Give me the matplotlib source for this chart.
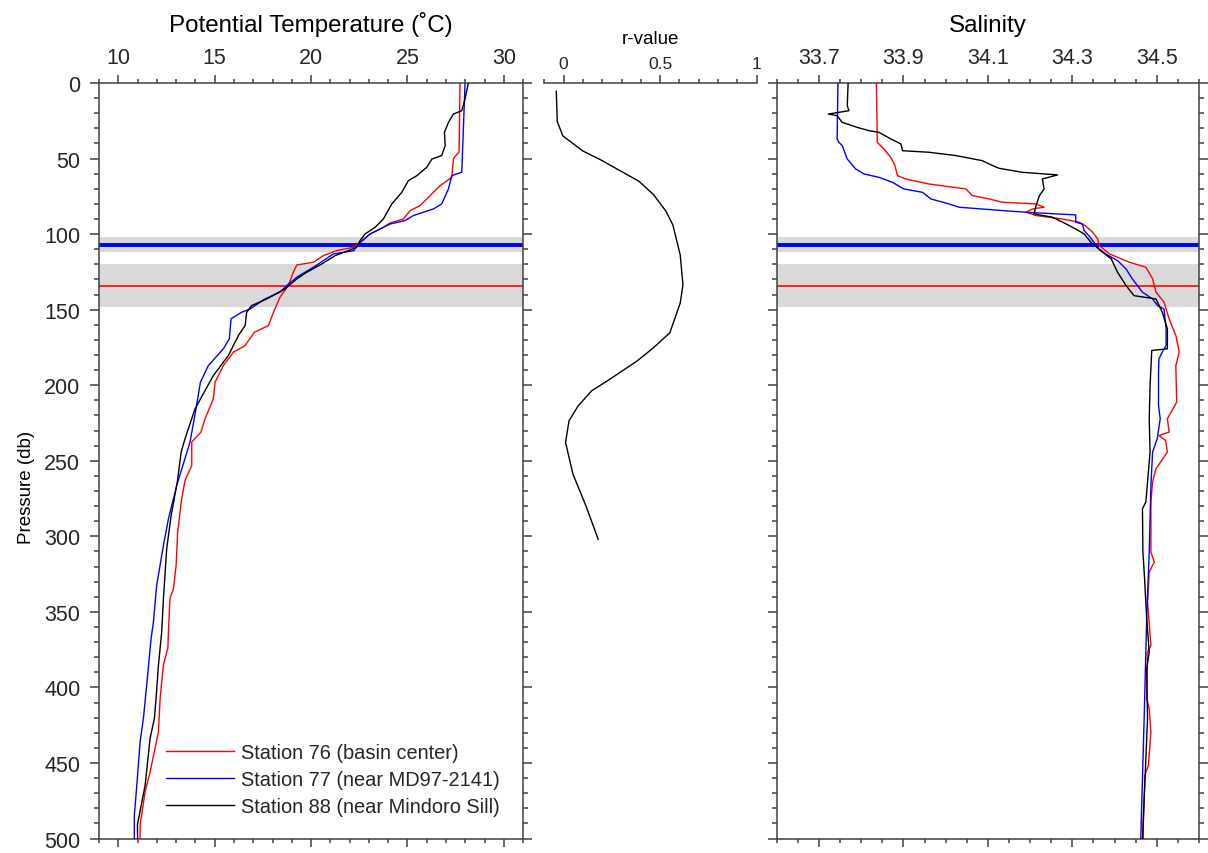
import matplotlib
matplotlib.use("Agg")
import matplotlib.pyplot as plt
from matplotlib.ticker import MultipleLocator

plt.rcParams['font.family'] = ['Liberation Sans', 'DejaVu Sans']
plt.rcParams['text.color'] = '#262626'
plt.rcParams['xtick.color'] = '#404040'
plt.rcParams['ytick.color'] = '#404040'
plt.rcParams['xtick.labelcolor'] = '#262626'
plt.rcParams['ytick.labelcolor'] = '#262626'

# ---- potential temperature profiles (pressure db, deg C)
t76_p = [0, 45.6, 50, 62.4, 67.9, 72.3, 81.1, 84.4, 90, 92.6, 95.5, 99.9, 105.4, 108.7, 110.9,
         114.2, 118.6, 120.4, 125.2, 134, 141.7, 151.7, 160.5, 164.9, 173.7, 178.1, 187, 198, 209,
         222.2, 231, 237.6, 253.1, 263, 275, 297, 319, 334.7, 341, 363, 374, 385, 407, 429.5,
         455.9, 469, 491, 500]
t76 = [27.73, 27.68, 27.39, 27.3, 26.7, 26.35, 25.66, 25.14, 24.79, 24.1, 23.75, 23.06, 22.54,
       22.2, 21.33, 20.64, 20.12, 19.26, 19.08, 18.82, 18.39, 18.05, 17.79, 17.06, 16.58, 15.97,
       15.45, 15.02, 14.93, 14.5, 14.29, 13.81, 13.81, 13.46, 13.29, 13.08, 13.0, 12.86, 12.68,
       12.6, 12.57, 12.34, 12.17, 12.08, 11.65, 11.39, 11.13, 11.13]

t77_p = [0, 59, 61.3, 70, 80, 83.3, 87.7, 91, 93.3, 95.5, 99.9, 107.6, 110.9, 113.1, 117.5, 121.9,
         128.5, 134, 138.4, 142.9, 149.5, 151.7, 156, 169.3, 175.9, 187, 198, 215.6, 237.6, 266.3,
         288.4, 306, 332.5, 356.7, 367.7, 398.6, 420.6, 436, 464.7, 484.6, 500]
t77 = [27.99, 27.82, 27.3, 27.13, 26.78, 26.35, 25.31, 24.88, 24.1, 23.75, 23.06, 22.37, 22.23,
       21.16, 20.64, 20.12, 19.26, 18.74, 18.39, 17.6, 16.84, 16.4, 15.85, 15.76, 15.45, 14.67,
       14.26, 14.03, 13.72, 13.03, 12.6, 12.34, 11.99, 11.82, 11.7, 11.47, 11.3, 11.13, 10.96,
       10.83, 10.83]

t88_p = [0, 10.6, 18.3, 20.5, 26, 32.6, 41.4, 48, 50.3, 55.8, 61.3, 64.6, 72.3, 80, 90, 95.5, 99.9,
         104.3, 108.7, 110.9, 114.2, 119.7, 125.2, 129.6, 136.2, 142.9, 147.3, 151.7, 160.5, 167.1,
         180.3, 193.6, 215.6, 235.4, 244.2, 264, 286.2, 308.2, 341.3, 363.3, 385.4, 407, 420.6,
         433.5, 464.7, 491, 500]
t88 = [28.16, 27.99, 27.82, 27.39, 27.13, 26.92, 26.96, 26.78, 26.27, 26.0, 25.49, 25.05, 24.71,
       24.19, 23.75, 23.32, 22.8, 22.54, 22.37, 21.94, 21.25, 20.56, 19.78, 19.26, 18.65, 17.7,
       16.92, 16.66, 16.58, 16.23, 15.71, 14.93, 13.98, 13.46, 13.26, 13.06, 12.74, 12.51, 12.34,
       12.25, 12.08, 11.96, 11.87, 11.65, 11.39, 10.99, 11.0]

# ---- r-value profile
r_p = [5.5, 25.5, 35, 45, 50.7, 65, 73.8, 84.8, 94, 113.8, 133.5, 145.6, 165.3, 175.2, 184,
       196.8, 203.8, 213.7, 223.5, 237.8, 258.7, 280.6, 302]
r_val = [-0.038, -0.033, -0.004, 0.10, 0.19, 0.39, 0.465, 0.53, 0.566, 0.604, 0.618, 0.604, 0.55,
         0.465, 0.38, 0.23, 0.144, 0.075, 0.028, 0.01, 0.048, 0.118, 0.179]

# ---- salinity profiles
s76_p = [0, 39.2, 43.7, 49.2, 54.7, 61.3, 63.5, 66.8, 70.1, 74.5, 76.7, 78.9, 80, 82.2, 83.3, 85.5,
         87.7, 90, 92.1, 94.3, 98.7, 103.2, 107.6, 113.1, 118.6, 121.9, 129.6, 138.4, 145, 156,
         167.1, 178, 187, 211.2, 222.2, 231, 233.3, 236.6, 244.2, 255.3, 264, 277.3, 310.4, 317,
         323.6, 343.5, 372.2, 376.6, 407, 414, 429.5, 451.5, 458, 491, 500]
s76 = [33.836, 33.838, 33.854, 33.87, 33.88, 33.886, 33.905, 33.96, 34.048, 34.063, 34.103, 34.134,
       34.214, 34.233, 34.206, 34.19, 34.214, 34.277, 34.316, 34.33, 34.348, 34.36, 34.364, 34.388,
       34.435, 34.474, 34.49, 34.498, 34.517, 34.529, 34.545, 34.553, 34.545, 34.547, 34.525,
       34.529, 34.505, 34.521, 34.525, 34.498, 34.49, 34.486, 34.486, 34.494, 34.482, 34.478,
       34.486, 34.478, 34.476, 34.482, 34.486, 34.48, 34.472, 34.468, 34.468]

s77_p = [0, 37, 39.2, 41.4, 50.3, 56.9, 60.2, 62.4, 65.7, 70.1, 72.3, 76.7, 80, 82.2, 84.4, 85.5,
         87.3, 92.1, 93.3, 97.7, 101, 105.4, 109.8, 113.1, 117.5, 123, 129.6, 138.4, 142.9, 147.3,
         149.5, 162.7, 173.7, 178, 182.5, 191.3, 213.4, 222.2, 235.4, 244.2, 266.3, 310.4, 354.5,
         420.6, 500]
s77 = [33.745, 33.743, 33.747, 33.755, 33.767, 33.787, 33.807, 33.842, 33.874, 33.901, 33.945,
       33.965, 34.008, 34.032, 34.134, 34.19, 34.308, 34.308, 34.324, 34.328, 34.339, 34.351,
       34.363, 34.379, 34.407, 34.427, 34.442, 34.466, 34.49, 34.502, 34.517, 34.522, 34.522,
       34.513, 34.505, 34.504, 34.504, 34.508, 34.501, 34.49, 34.486, 34.482, 34.476, 34.47,
       34.462]

s88_p = [0, 15, 18.3, 19.4, 20.5, 21.6, 26, 29.3, 31.5, 32.6, 37, 40.3, 44.8, 45.8, 48, 51.4, 53.6,
         56.4, 59.1, 60.8, 63.5, 70.1, 74.5, 81.1, 86.6, 88.8, 92.1, 96.6, 99.9, 105.4, 112, 116.4,
         125.2, 134, 140.7, 142.9, 151.7, 162.7, 175.9, 177, 200.2, 222.2, 244.2, 277.3, 281.7,
         310.4, 328, 354.5, 376.6, 387.6, 420.6, 500]
s88 = [33.769, 33.767, 33.771, 33.747, 33.722, 33.743, 33.755, 33.79, 33.818, 33.842, 33.87,
       33.894, 33.898, 33.96, 34.024, 34.087, 34.103, 34.126, 34.182, 34.265, 34.229, 34.233,
       34.222, 34.214, 34.209, 34.253, 34.277, 34.308, 34.328, 34.344, 34.372, 34.392, 34.407,
       34.427, 34.446, 34.498, 34.513, 34.525, 34.525, 34.488, 34.484, 34.482, 34.484, 34.474,
       34.466, 34.467, 34.471, 34.476, 34.482, 34.476, 34.478, 34.466]

# shaded depth bands and marker lines (db)
bands = [(102, 112), (120, 148)]
line77 = 107
line76 = 134.5

labels = ["Station 76 (basin center)", "Station 77 (near MD97-2141)", "Station 88 (near Mindoro Sill)"]
colors = ["#ff0000", "#0000ff", "#000000"]

spine_c = '#404040'

fig = plt.figure(figsize=(12.08, 8.54), dpi=100)
ax1 = fig.add_axes([0.0820, 0.0169, 0.3510, 0.8847])
ax2 = fig.add_axes([0.4506, 0.0169, 0.1758, 0.8847])
ax3 = fig.add_axes([0.6430, 0.0169, 0.3496, 0.8847])


def style_profile_axis(ax):
    ax.set_ylim(500, 0)
    for sp in ax.spines.values():
        sp.set_color(spine_c)
        sp.set_linewidth(1.1)
    ax.xaxis.set_label_position('top')
    ax.tick_params(axis='x', which='both', top=True, bottom=True, labeltop=True,
                   labelbottom=False, direction='out', width=1.1)
    ax.tick_params(axis='y', which='both', left=True, right=True, direction='out', width=1.1)
    ax.tick_params(axis='x', which='major', length=6, labelsize=15.5, pad=5)
    ax.tick_params(axis='x', which='minor', length=3)
    ax.tick_params(axis='y', which='major', length=6.5, labelsize=15.5, pad=7)
    ax.tick_params(axis='y', which='minor', length=3.3)
    ax.yaxis.set_major_locator(MultipleLocator(50))
    ax.yaxis.set_minor_locator(MultipleLocator(10))
    for lo, hi in bands:
        ax.axhspan(lo, hi, color='#d9d9d9', lw=0, zorder=0)
    ax.axhline(line77, color='#0000ff', lw=2.8, zorder=1)
    ax.axhline(line76, color='#ff2020', lw=1.4, zorder=1)


# left panel: potential temperature
style_profile_axis(ax1)
ax1.plot(t76, t76_p, color=colors[0], lw=1.0, label=labels[0], zorder=3)
ax1.plot(t77, t77_p, color=colors[1], lw=1.0, label=labels[1], zorder=3)
ax1.plot(t88, t88_p, color=colors[2], lw=1.0, label=labels[2], zorder=3)
ax1.set_xlim(9, 31)
ax1.xaxis.set_major_locator(MultipleLocator(5))
ax1.xaxis.set_minor_locator(MultipleLocator(1))
ax1.set_xlabel("Potential Temperature (\u02daC)", fontsize=17.4, labelpad=11)
ax1.set_ylabel("Pressure (db)", fontsize=13.5)
ax1.yaxis.set_label_coords(-0.152, 0.466)
ax1.legend(loc='lower left', bbox_to_anchor=(0.157, 0.03), frameon=False, fontsize=14.4,
           handlelength=3.4, handletextpad=0.35, labelspacing=0.4, borderpad=0, borderaxespad=0)

# middle panel: r-value
ax2.plot(r_val, r_p, color='black', lw=1.0)
ax2.set_xlim(-0.1, 1)
ax2.set_ylim(500, 0)
for side in ['left', 'right', 'bottom']:
    ax2.spines[side].set_visible(False)
ax2.spines['top'].set_color(spine_c)
ax2.spines['top'].set_linewidth(1.1)
ax2.set_yticks([])
ax2.xaxis.set_label_position('top')
ax2.xaxis.set_major_locator(MultipleLocator(0.5))
ax2.xaxis.set_minor_locator(MultipleLocator(0.1))
ax2.xaxis.set_major_formatter(plt.FuncFormatter(lambda v, pos: f"{v:g}"))
ax2.tick_params(axis='x', which='both', top=True, bottom=False, labeltop=True,
                labelbottom=False, direction='out', width=1.1)
ax2.tick_params(axis='x', which='major', length=6, labelsize=12.5, pad=3)
ax2.tick_params(axis='x', which='minor', length=3)
ax2.set_xlabel("r-value", fontsize=13.5, labelpad=9)

# right panel: salinity
style_profile_axis(ax3)
ax3.plot(s76, s76_p, color=colors[0], lw=1.0, zorder=3)
ax3.plot(s77, s77_p, color=colors[1], lw=1.0, zorder=3)
ax3.plot(s88, s88_p, color=colors[2], lw=1.0, zorder=3)
ax3.set_xlim(33.6, 34.6)
ax3.set_xticks([33.7, 33.9, 34.1, 34.3, 34.5])
ax3.xaxis.set_minor_locator(MultipleLocator(0.05))
ax3.tick_params(axis='y', labelleft=False)
ax3.set_xlabel("Salinity", fontsize=17.4, labelpad=11)

fig.savefig("out.png", dpi=100)
